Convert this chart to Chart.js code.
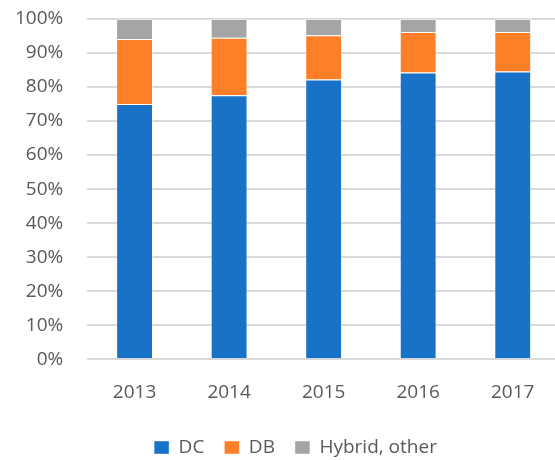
<!DOCTYPE html>
<html>
<head>
<meta charset="utf-8">
<script src="https://cdn.jsdelivr.net/npm/chart.js@4/dist/chart.umd.min.js"></script>
<style>
    html, body { margin: 0; padding: 0; background: #fff; overflow: hidden; }
    #wrap { width: 565px; height: 460px; position: relative; }
</style>
</head>
<body>
<div id="wrap"><canvas id="planChart"></canvas></div>
<script>
const years = ["2013", "2014", "2015", "2016", "2017"];
const dcShare = [75.0, 77.6, 82.2, 84.3, 84.6];
const dbShare = [19.1, 16.9, 13.0, 11.9, 11.6];
const hybridShare = [5.9, 5.5, 4.8, 3.8, 3.8];
const yTicks = [0, 10, 20, 30, 40, 50, 60, 70, 80, 90, 100];

const textColor = "#595959";
const fontFamily = "'Open Sans', 'Noto Sans', sans-serif";
const barEdge = "rgba(255,255,255,0.45)";

const ctx = document.getElementById("planChart").getContext("2d");

// nudge the legend to the right so it sits under the plot like the original
const legendShift = {
    id: "legendShift",
    afterLayout(chart) {
        chart.legend.left += 9;
        chart.legend.right += 9;
    }
};

new Chart(ctx, {
    type: "bar",
    data: {
        labels: years,
        datasets: [
            { label: "DC", data: dcShare, backgroundColor: "#1873C8", borderColor: barEdge },
            { label: "DB", data: dbShare, backgroundColor: "#FE7F27", borderColor: barEdge },
            { label: "Hybrid, other", data: hybridShare, backgroundColor: "#A5A5A5", borderColor: barEdge }
        ]
    },
    options: {
        responsive: true,
        maintainAspectRatio: false,
        animation: false,
        layout: { padding: { left: 13, right: 5, top: 19, bottom: -7 } },
        datasets: {
            bar: { barPercentage: 0.39, categoryPercentage: 1.0, borderWidth: 1 }
        },
        scales: {
            x: {
                stacked: true,
                grid: { display: false },
                border: { display: false },
                ticks: {
                    color: textColor,
                    font: { family: fontFamily, size: 19 },
                    padding: 14
                }
            },
            y: {
                stacked: true,
                min: 0,
                max: 100,
                afterBuildTicks: (scale) => {
                    scale.ticks = yTicks.map(v => ({ value: v }));
                },
                grid: { color: "#D9D9D9", lineWidth: 2, tickLength: 22, tickColor: "rgba(0,0,0,0)" },
                border: { display: false },
                ticks: {
                    color: textColor,
                    font: { family: fontFamily, size: 19 },
                    padding: 2,
                    callback: (value) => value + "%"
                }
            }
        },
        plugins: {
            legend: {
                position: "bottom",
                labels: {
                    color: textColor,
                    font: { family: fontFamily, size: 19 },
                    boxWidth: 15,
                    boxHeight: 13,
                    padding: 20
                }
            },
            tooltip: { enabled: false }
        }
    },
    plugins: [legendShift]
});
</script>
</body>
</html>
